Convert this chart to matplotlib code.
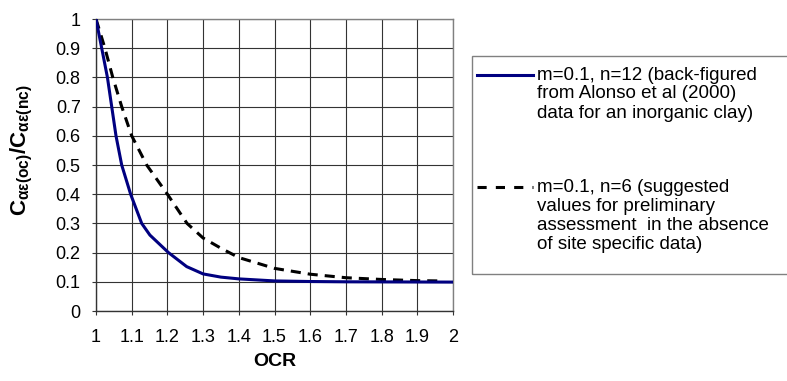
import numpy as np
import matplotlib.pyplot as plt
from matplotlib.lines import Line2D
from matplotlib.patches import Rectangle

plt.rcParams['font.family'] = ['Liberation Sans', 'DejaVu Sans']
plt.rcParams['mathtext.fontset'] = 'custom'
plt.rcParams['mathtext.rm'] = 'Liberation Sans'
plt.rcParams['mathtext.it'] = 'Liberation Sans:italic'
plt.rcParams['mathtext.bf'] = 'Liberation Sans:bold'

# valori
ocr_a = [1.0, 1.016, 1.032, 1.044, 1.056, 1.072, 1.097, 1.128, 1.151, 1.203, 1.254, 1.3, 1.35, 1.4, 1.5, 1.6, 1.7, 2.0]
ratio_a = [1.0, 0.9, 0.8, 0.7, 0.6, 0.5, 0.4, 0.3, 0.26, 0.2, 0.152, 0.127, 0.116, 0.11, 0.103, 0.101, 0.1, 0.099]

ocr_b = [1.0, 1.025, 1.047, 1.072, 1.1, 1.142, 1.2, 1.255, 1.3, 1.35, 1.4, 1.5, 1.6, 1.7, 1.8, 1.9, 1.96]
ratio_b = [1.0, 0.9, 0.8, 0.7, 0.6, 0.5, 0.4, 0.3, 0.25, 0.215, 0.183, 0.146, 0.126, 0.114, 0.108, 0.104, 0.103]

label_a = ['m=0.1, n=12 (back-figured', 'from Alonso et al (2000)', 'data for an inorganic clay)']
label_b = ['m=0.1, n=6 (suggested', 'values for preliminary', 'assessment  in the absence', 'of site specific data)']

xticks = [1, 1.1, 1.2, 1.3, 1.4, 1.5, 1.6, 1.7, 1.8, 1.9, 2]
xticklabels = ['1', '1.1', '1.2', '1.3', '1.4', '1.5', '1.6', '1.7', '1.8', '1.9', '2']
yticks = [0, 0.1, 0.2, 0.3, 0.4, 0.5, 0.6, 0.7, 0.8, 0.9, 1]
yticklabels = ['0', '0.1', '0.2', '0.3', '0.4', '0.5', '0.6', '0.7', '0.8', '0.9', '1']

W, H = 787, 381
fig = plt.figure(figsize=(W / 100, H / 100), dpi=100)
ax = fig.add_axes([96 / W, 1 - 311 / H, (453 - 96) / W, (311 - 19) / H])

navy = '#000080'
ax.plot(ocr_b, ratio_b, color='black', lw=2.2, dashes=(3.3, 2.3), zorder=3)
ax.plot(ocr_a, ratio_a, color=navy, lw=2.2, zorder=4, solid_capstyle='butt', solid_joinstyle='round')

ax.set_xlim(1, 2)
ax.set_ylim(0, 1)
ax.set_xticks(xticks)
ax.set_xticklabels(xticklabels)
ax.set_yticks(yticks)
ax.set_yticklabels(yticklabels)
ax.tick_params(axis='x', length=3, pad=10, labelsize=13, color='#333333')
ax.tick_params(axis='y', length=3, pad=8, labelsize=13, color='#333333')
ax.grid(True, color='#333333', lw=0.8)
for s in ax.spines.values():
    s.set_color('#808080')
    s.set_linewidth(1)
ax.spines['left'].set_color('#333333')
ax.spines['bottom'].set_color('#333333')

fig.text(275 / W, 1 - 362 / H, 'OCR', ha='center', va='center', fontsize=14, fontweight='bold')
fig.text(22 / W, 1 - 150 / H, r'$\mathbf{C_{\alpha\varepsilon(oc)}/C_{\alpha\varepsilon(nc)}}$',
         rotation=90, ha='center', va='center', fontsize=16)

# legenda disegnata a mano
fig.patches.append(Rectangle((472 / W, 1 - 274 / H), 400 / W, (274 - 56) / H,
                             transform=fig.transFigure, fill=False, ec='#808080', lw=1))
fig.lines.append(Line2D([477 / W, 533 / W], [1 - 75 / H] * 2, transform=fig.transFigure,
                        color=navy, lw=2.2))
fig.lines.append(Line2D([477 / W, 533 / W], [1 - 187 / H] * 2, transform=fig.transFigure,
                        color='black', lw=2.2, dashes=(3, 3)))
for i, t in enumerate(label_a):
    fig.text(537 / W, 1 - (75 + 19 * i) / H, t, ha='left', va='center', fontsize=13.5)
for i, t in enumerate(label_b):
    fig.text(537 / W, 1 - (187 + 19.3 * i) / H, t, ha='left', va='center', fontsize=13.5)

plt.savefig('out.png')
